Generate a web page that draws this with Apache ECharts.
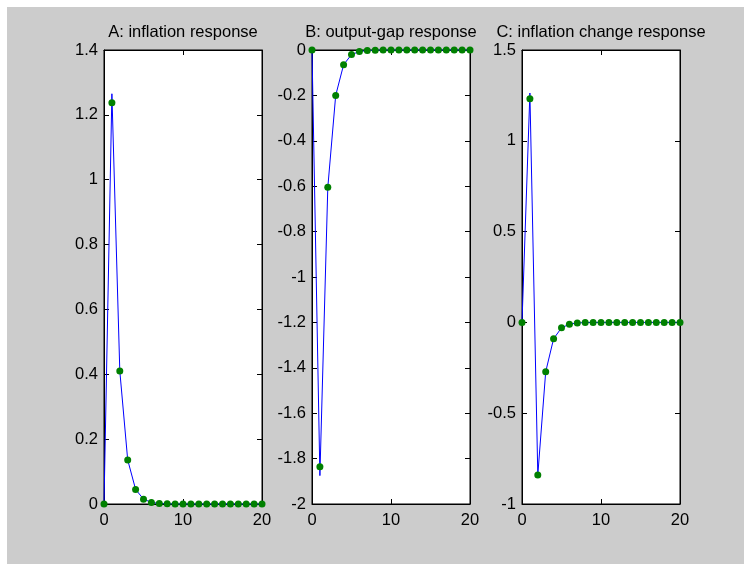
<!DOCTYPE html>
<html>
<head>
<meta charset="utf-8">
<script src="https://cdn.jsdelivr.net/npm/echarts@6/dist/echarts.min.js"></script>
<style>
html,body{margin:0;padding:0;background:#ffffff;}
#chart{width:744px;height:564px;}
</style>
</head>
<body>
<div id="chart"></div>
<script>
// ---- data ----
const steps = [0,1,2,3,4,5,6,7,8,9,10,11,12,13,14,15,16,17,18,19,20];
const titles = ['A: inflation response', 'B: output-gap response', 'C: inflation change response'];

const inflationLine = [0, 1.265, 0.41, 0.136, 0.045, 0.015, 0.005, 0.0017, 0.0006, 0.0002, 0.0001, 0, 0, 0, 0, 0, 0, 0, 0, 0, 0];
const inflationDots = [0, 1.237, 0.41, 0.136, 0.045, 0.015, 0.005, 0.0017, 0.0006, 0.0002, 0.0001, 0, 0, 0, 0, 0, 0, 0, 0, 0, 0];

const gapLine = [0, -1.875, -0.605, -0.2, -0.065, -0.02, -0.007, -0.002, -0.0008, -0.0003, -0.0001, 0, 0, 0, 0, 0, 0, 0, 0, 0, 0];
const gapDots = [0, -1.836, -0.605, -0.2, -0.065, -0.02, -0.007, -0.002, -0.0008, -0.0003, -0.0001, 0, 0, 0, 0, 0, 0, 0, 0, 0, 0];

const changeLine = [0, 1.263, -0.84, -0.272, -0.09, -0.03, -0.01, -0.003, -0.001, -0.0004, -0.0001, 0, 0, 0, 0, 0, 0, 0, 0, 0, 0];
const changeDots = [0, 1.232, -0.84, -0.272, -0.09, -0.03, -0.01, -0.003, -0.001, -0.0004, -0.0001, 0, 0, 0, 0, 0, 0, 0, 0, 0, 0];

const yRanges = [[0, 1.4, 0.2], [-2, 0, 0.2], [-1, 1.5, 0.5]];
const xRange = [0, 20, 10];

// ---- layout ----
const FONT = 'Liberation Sans, Arial, sans-serif';
const FS = 16.5;
const lefts = [104, 312, 522];
const W = 158, TOP = 50, H = 454;

const lines = [inflationLine, gapLine, changeLine];
const dots = [inflationDots, gapDots, changeDots];
const pair = (ys) => steps.map((x, i) => [x, ys[i]]);

const grids = [], xAxes = [], yAxes = [], series = [], titleCfg = [];
for (let p = 0; p < 3; p++) {
  grids.push({left: lefts[p], top: TOP, width: W, height: H, show: true,
    backgroundColor: '#ffffff', borderColor: '#000000', borderWidth: 1});
  titleCfg.push({text: titles[p], left: lefts[p] + W / 2 - 5, top: 19, textAlign: 'center',
    textStyle: {fontFamily: FONT, fontSize: FS, fontWeight: 'normal', color: '#000'}});
  const xBase = {type: 'value', gridIndex: p, min: xRange[0], max: xRange[1], interval: xRange[2],
    splitLine: {show: false},
    axisLine: {show: true, onZero: false, lineStyle: {color: '#000', width: 1}},
    axisTick: {show: true, inside: true, length: 5, lineStyle: {color: '#000'}}};
  xAxes.push(Object.assign({}, xBase, {position: 'bottom',
    axisLabel: {show: true, margin: 8, color: '#000', fontFamily: FONT, fontSize: FS}}));
  xAxes.push(Object.assign({}, xBase, {position: 'top', axisLabel: {show: false}}));
  const yr = yRanges[p];
  const yBase = {type: 'value', gridIndex: p, min: yr[0], max: yr[1], interval: yr[2],
    splitLine: {show: false},
    axisLine: {show: true, onZero: false, lineStyle: {color: '#000', width: 1}},
    axisTick: {show: true, inside: true, length: 5, lineStyle: {color: '#000'}}};
  yAxes.push(Object.assign({}, yBase, {position: 'left',
    axisLabel: {show: true, margin: 6, color: '#000', fontFamily: FONT, fontSize: FS}}));
  yAxes.push(Object.assign({}, yBase, {position: 'right', axisLabel: {show: false}}));

  series.push({type: 'line', xAxisIndex: 2 * p, yAxisIndex: 2 * p, data: pair(lines[p]),
    showSymbol: false, symbol: 'none', clip: false, animation: false,
    lineStyle: {color: '#0000ff', width: 1}, z: 3});
  series.push({type: 'scatter', xAxisIndex: 2 * p, yAxisIndex: 2 * p, data: pair(dots[p]),
    symbol: 'circle', symbolSize: 7, clip: false, animation: false,
    itemStyle: {color: '#008000', opacity: 1}, z: 4});
}

const chart = echarts.init(document.getElementById('chart'), null, {renderer: 'canvas'});
chart.setOption({
  animation: false,
  backgroundColor: '#ffffff',
  graphic: [{type: 'rect', z: -10, shape: {x: 7, y: 7, width: 737, height: 557}, style: {fill: '#cccccc'}, silent: true}],
  title: titleCfg,
  grid: grids,
  xAxis: xAxes,
  yAxis: yAxes,
  series: series
});
</script>
</body>
</html>
